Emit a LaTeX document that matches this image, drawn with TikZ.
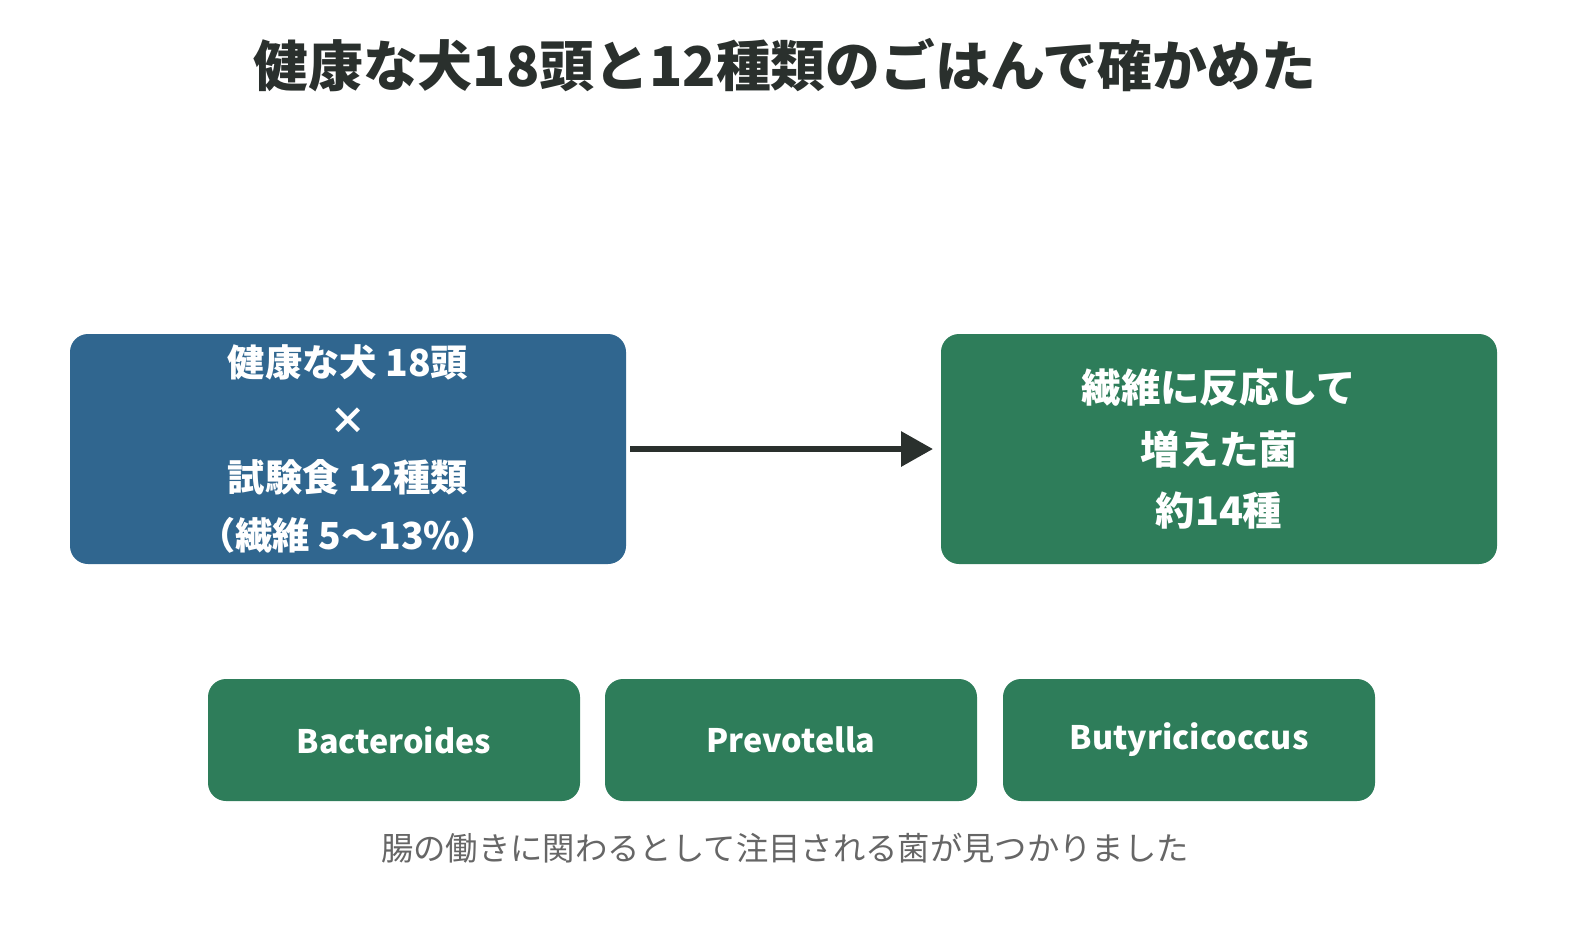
\documentclass[tikz,border=0pt]{standalone}
\usepackage{fontspec}
\setmainfont{Noto Sans CJK JP}
\usetikzlibrary{arrows.meta}
\definecolor{bl}{HTML}{30668F}
\definecolor{gr}{HTML}{2E7D5A}
\definecolor{dk}{HTML}{2A302D}
\definecolor{gy}{HTML}{666666}
\begin{document}
\begin{tikzpicture}[x=0.025cm,y=-0.025cm,
 box/.style={rounded corners=0.45cm,text=white,font=\bfseries\fontsize{24}{40}\selectfont,align=center,inner sep=0},
]
\useasboundingbox (0,0) rectangle (1590,948);
\node[font=\bfseries\fontsize{39}{40}\selectfont,text=dk] (title) at (785,65) {健康な犬18頭と12種類のごはんで確かめた};
\fill[bl,rounded corners=0.45cm] (70,334) rectangle (626,564);
\node[box,font=\bfseries\fontsize{26.5}{41}\selectfont] (a) at (348,449) {健康な犬 18頭\\×\\試験食 12種類\\（繊維 5〜13\%）};
\fill[gr,rounded corners=0.45cm] (941,334) rectangle (1497,564);
\node[box,font=\bfseries\fontsize{28}{44}\selectfont] (b) at (1219,449) {繊維に反応して\\増えた菌\\約14種};
\coordinate (as) at (630,449); \coordinate (be) at (933,449);
\draw[dk,line width=4.5pt,-{Triangle[length=0.8cm,width=0.85cm]}] (as) -- (be);
\foreach \n/\x/\t in {c1/394/Bacteroides,c2/791/Prevotella,c3/1189/Butyricicoccus}{
 \fill[gr,rounded corners=0.45cm] (\x-186,679) rectangle (\x+186,801);
 \node[box,font=\bfseries\fontsize{23}{26}\selectfont] (\n) at (\x,740) {\t};
}
\node[text=gy,font=\fontsize{23}{26}\selectfont] (cap) at (785,848) {腸の働きに関わるとして注目される菌が見つかりました};
\end{tikzpicture}
\end{document}
